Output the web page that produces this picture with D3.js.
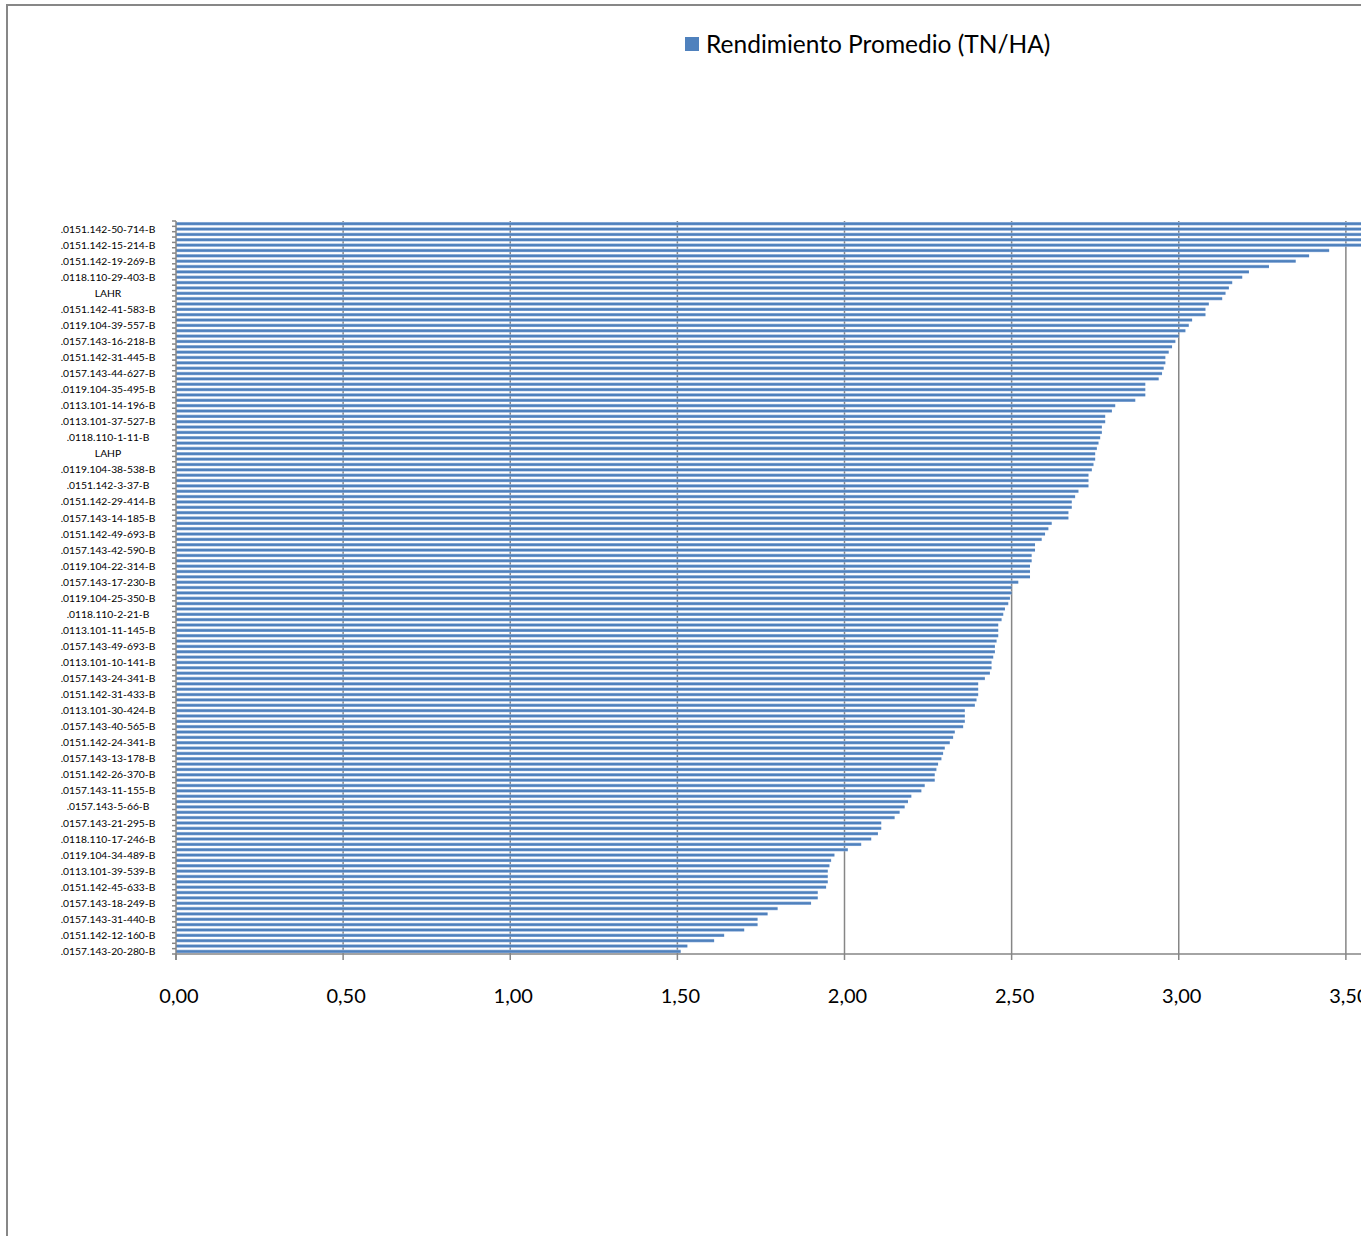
<!DOCTYPE html>
<html>
<head>
<meta charset="utf-8">
<script src="https://cdn.jsdelivr.net/npm/d3@7/dist/d3.min.js"></script>
<style>
  html, body { margin: 0; padding: 0; background: #fff; }
  svg { display: block; font-family: Lato, "Open Sans", sans-serif; }
</style>
</head>
<body>
<div id="chart"></div>
<script>
// Bar values, bottom category first (Excel order), i.e. ascending.
const values = [
  1.51, 1.53, 1.61, 1.64, 1.70, 1.74, 1.74, 1.77, 1.80, 1.90,
  1.92, 1.92, 1.945, 1.95, 1.95, 1.95, 1.955, 1.96, 1.97, 2.01,
  2.05, 2.08, 2.10, 2.11, 2.11, 2.15, 2.165, 2.18, 2.19, 2.20,
  2.23, 2.24, 2.27, 2.27, 2.275, 2.28, 2.29, 2.295, 2.30, 2.315,
  2.325, 2.33, 2.355, 2.36, 2.36, 2.36, 2.39, 2.395, 2.40, 2.40,
  2.40, 2.42, 2.435, 2.44, 2.44, 2.445, 2.45, 2.45, 2.455, 2.46,
  2.46, 2.46, 2.47, 2.475, 2.48, 2.49, 2.495, 2.50, 2.50, 2.52,
  2.555, 2.555, 2.555, 2.56, 2.56, 2.57, 2.57, 2.59, 2.60, 2.61,
  2.62, 2.67, 2.67, 2.68, 2.68, 2.69, 2.70, 2.73, 2.73, 2.73,
  2.74, 2.745, 2.75, 2.75, 2.755, 2.76, 2.765, 2.77, 2.77, 2.78,
  2.78, 2.80, 2.81, 2.87, 2.90, 2.90, 2.90, 2.94, 2.95, 2.955,
  2.96, 2.96, 2.97, 2.98, 2.99, 3.00, 3.02, 3.03, 3.04, 3.08,
  3.08, 3.09, 3.13, 3.14, 3.15, 3.16, 3.19, 3.21, 3.27, 3.35,
  3.39, 3.45, 3.56, 3.58, 3.62, 3.64, 3.66
];

// Visible category labels: Excel shows every 3rd one, starting at the bottom.
const labels = [
  '.0157.143-20-280-B', '.0151.142-12-160-B', '.0157.143-31-440-B', '.0157.143-18-249-B',
  '.0151.142-45-633-B', '.0113.101-39-539-B', '.0119.104-34-489-B', '.0118.110-17-246-B',
  '.0157.143-21-295-B', '.0157.143-5-66-B', '.0157.143-11-155-B', '.0151.142-26-370-B',
  '.0157.143-13-178-B', '.0151.142-24-341-B', '.0157.143-40-565-B', '.0113.101-30-424-B',
  '.0151.142-31-433-B', '.0157.143-24-341-B', '.0113.101-10-141-B', '.0157.143-49-693-B',
  '.0113.101-11-145-B', '.0118.110-2-21-B', '.0119.104-25-350-B', '.0157.143-17-230-B',
  '.0119.104-22-314-B', '.0157.143-42-590-B', '.0151.142-49-693-B', '.0157.143-14-185-B',
  '.0151.142-29-414-B', '.0151.142-3-37-B', '.0119.104-38-538-B', 'LAHP',
  '.0118.110-1-11-B', '.0113.101-37-527-B', '.0113.101-14-196-B', '.0119.104-35-495-B',
  '.0157.143-44-627-B', '.0151.142-31-445-B', '.0157.143-16-218-B', '.0119.104-39-557-B',
  '.0151.142-41-583-B', 'LAHR', '.0118.110-29-403-B', '.0151.142-19-269-B',
  '.0151.142-15-214-B', '.0151.142-50-714-B'
];

const xTicks = [0, 0.5, 1, 1.5, 2, 2.5, 3, 3.5, 4];
const xTickLabels = [0, 0.5, 1, 1.5, 2, 2.5, 3, 3.5];
const seriesName = 'Rendimiento Promedio (TN/HA)';

const width = 1361;
const height = 1236;
const plot = { left: 176, right: 1513, top: 221, bottom: 954 };

const svg = d3.select('#chart')
  .append('svg')
  .attr('width', width)
  .attr('height', height);

// Chart area border (only the top and left edges are inside the picture).
svg.append('path')
  .attr('d', `M7,${height} V5 H${width}`)
  .style('fill', 'none')
  .style('stroke', '#878787')
  .style('stroke-width', 2);

// Gradient that Excel 2007 puts on the bars.
const grad = svg.append('defs')
  .append('linearGradient')
  .attr('id', 'barGrad')
  .attr('x1', 0).attr('y1', 0).attr('x2', 0).attr('y2', 1);
grad.append('stop').attr('offset', '0%').attr('stop-color', '#a9c2e2');
grad.append('stop').attr('offset', '35%').attr('stop-color', '#4f81bd');
grad.append('stop').attr('offset', '70%').attr('stop-color', '#4f81bd');
grad.append('stop').attr('offset', '100%').attr('stop-color', '#8eaedb');

const cats = d3.range(values.length);

const x = d3.scaleLinear()
  .domain([0, 4])
  .range([plot.left, plot.right]);

// Category 0 sits at the bottom.
const y = d3.scaleBand()
  .domain(cats)
  .range([plot.bottom, plot.top]);
const step = y.step();

// Vertical gridlines.
svg.append('g')
  .selectAll('line')
  .data(xTicks.slice(1))
  .enter()
  .append('line')
  .attr('x1', d => x(d))
  .attr('x2', d => x(d))
  .attr('y1', plot.top)
  .attr('y2', plot.bottom)
  .style('stroke', '#868686')
  .style('stroke-width', 1.5);

// Bars.
const barH = step * 0.64;
svg.append('g')
  .selectAll('rect')
  .data(values)
  .enter()
  .append('rect')
  .attr('x', x(0))
  .attr('y', (d, i) => y(i) + (step - barH) / 2)
  .attr('width', d => x(d) - x(0))
  .attr('height', barH)
  .style('fill', 'url(#barGrad)');

// Category axis: line plus a tick at every category boundary.
const yAxis = svg.append('g').style('stroke', '#868686');
yAxis.append('line')
  .attr('x1', x(0)).attr('x2', x(0))
  .attr('y1', plot.top).attr('y2', plot.bottom + 6)
  .style('stroke-width', 1.5);
yAxis.selectAll('line.tick')
  .data(d3.range(values.length + 1))
  .enter()
  .append('line')
  .classed('tick', true)
  .attr('x1', x(0) - 4)
  .attr('x2', x(0))
  .attr('y1', i => plot.bottom - i * step)
  .attr('y2', i => plot.bottom - i * step)
  .style('stroke-width', 1.5);

// Category labels, every third category.
svg.append('g')
  .selectAll('text')
  .data(labels)
  .enter()
  .append('text')
  .text(d => d)
  .attr('x', 108)
  .attr('y', (d, i) => y(i * 3) + step / 2)
  .attr('dy', '0.35em')
  .style('text-anchor', 'middle')
  .style('font-size', '10.3px')
  .style('fill', '#000');

// Value axis.
const xAxis = svg.append('g').style('stroke', '#868686');
xAxis.append('line')
  .attr('x1', x(0)).attr('x2', plot.right)
  .attr('y1', plot.bottom).attr('y2', plot.bottom)
  .style('stroke-width', 1.5);
xAxis.selectAll('line.tick')
  .data(xTicks)
  .enter()
  .append('line')
  .classed('tick', true)
  .attr('x1', d => x(d)).attr('x2', d => x(d))
  .attr('y1', plot.bottom).attr('y2', plot.bottom + 6)
  .style('stroke-width', 1.5);

const fmt = d => d3.format('.2f')(d).replace('.', ',');
svg.append('g')
  .selectAll('text')
  .data(xTickLabels)
  .enter()
  .append('text')
  .text(fmt)
  .attr('x', d => x(d) + 3)
  .attr('y', 1003)
  .style('text-anchor', 'middle')
  .style('font-size', '20px')
  .style('fill', '#000');

// Legend.
svg.append('rect')
  .attr('x', 685)
  .attr('y', 37)
  .attr('width', 14)
  .attr('height', 14)
  .style('fill', '#4f81bd');
svg.append('text')
  .text(seriesName)
  .attr('x', 706)
  .attr('y', 53)
  .style('font-size', '24.5px')
  .style('fill', '#000');
</script>
</body>
</html>
